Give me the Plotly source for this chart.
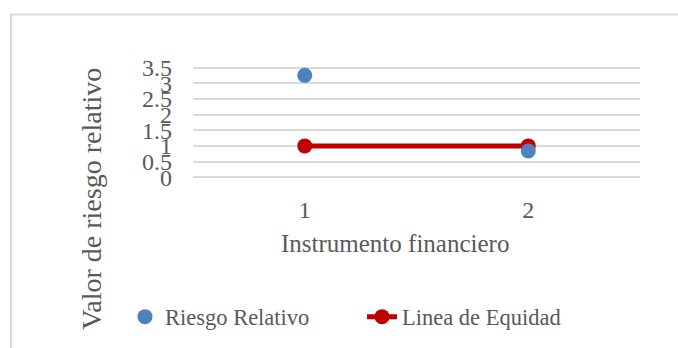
import plotly.graph_objects as go

# Data
instrumentos = [1, 2]
riesgo_relativo = [3.26, 0.84]
linea_equidad = [1, 1]
y_ticks = [0, 0.5, 1, 1.5, 2, 2.5, 3, 3.5]
y_tick_labels = ["0", "0.5", "1", "1.5", "2", "2.5", "3", "3.5"]
x_ticks = [1, 2]
x_tick_labels = ["1", "2"]

W, H = 678, 348
ML, MR, MT, MB = 193, 38, 66, 168
PW, PH = W - ML - MR, H - MT - MB
Y_PAD = 0.06  # small padding so the 0 and 3.5 gridlines are drawn

def px_x(p):
    return (p - ML) / PW

def px_y(p):
    return (H - MB - p) / PH

FONT = "Liberation Serif, Times New Roman, serif"
GRAY = "#595959"

fig = go.Figure()
fig.add_trace(go.Scatter(
    x=instrumentos, y=linea_equidad, mode="lines+markers", name="Linea de Equidad",
    line=dict(color="#C00000", width=5),
    marker=dict(color="#C00000", size=15),
))
fig.add_trace(go.Scatter(
    x=instrumentos, y=riesgo_relativo, mode="markers", name="Riesgo Relativo",
    marker=dict(color="#4F81BD", size=15),
))

fig.update_layout(
    width=W, height=H,
    margin=dict(l=ML, r=MR, t=MT, b=MB),
    paper_bgcolor="white", plot_bgcolor="white",
    font=dict(family=FONT, size=22, color=GRAY),
    showlegend=True,
    legend=dict(orientation="h", x=px_x(125), y=px_y(317), xanchor="left", yanchor="middle",
                font=dict(size=22.5, color=GRAY), traceorder="reversed",
                itemwidth=30, entrywidth=192, entrywidthmode="pixels",
                bgcolor="rgba(0,0,0,0)"),
    xaxis=dict(range=[0.5, 2.5], tickmode="array", tickvals=x_ticks, ticktext=x_tick_labels,
               showgrid=False, zeroline=False, showline=False, ticks="",
               ticklabelstandoff=14, tickfont=dict(size=24, color=GRAY)),
    yaxis=dict(range=[-Y_PAD, 3.5 + Y_PAD], tickmode="array", tickvals=y_ticks,
               ticktext=y_tick_labels,
               showgrid=True, gridcolor="#D9D9D9", gridwidth=1.5, zeroline=False,
               showline=False, ticks="", ticklabelstandoff=20,
               tickfont=dict(size=24, color=GRAY)),
    annotations=[
        dict(text="Instrumento financiero", x=px_x(395), y=px_y(245), xref="paper", yref="paper",
             showarrow=False, xanchor="center", yanchor="middle", font=dict(size=25, color=GRAY)),
        dict(text="Valor de riesgo relativo", x=px_x(92), y=px_y(200), xref="paper", yref="paper",
             showarrow=False, xanchor="center", yanchor="middle", textangle=-90,
             font=dict(size=28, color=GRAY)),
    ],
    shapes=[
        dict(type="rect", xref="paper", yref="paper", x0=px_x(11), x1=px_x(720),
             y0=px_y(400), y1=px_y(14), line=dict(color="#D9D9D9", width=2),
             fillcolor="rgba(0,0,0,0)", layer="below"),
    ],
)

fig.write_html("out.html")
